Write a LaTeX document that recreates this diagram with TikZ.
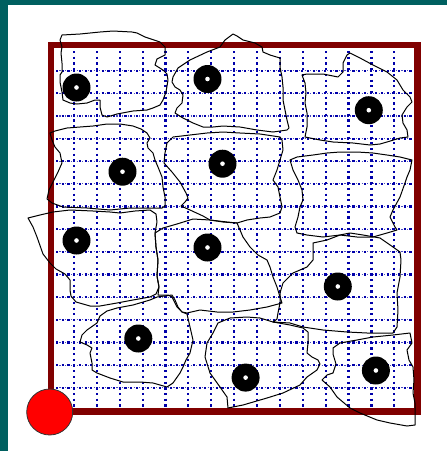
\documentclass[tikz,border=0pt]{standalone}
\usepackage{tikz}
\definecolor{slideteal}{RGB}{0, 96, 96}
\definecolor{framered}{RGB}{128, 0, 0}
\definecolor{gridblue}{RGB}{0, 0, 170}
\tikzset{
  plotframe/.style={draw=framered, line width=6.7pt},
  gridline/.style={gridblue, line width=2.2pt, dash pattern=on 2.2pt off 3.5pt},
  gridfine/.style={gridblue!70, line width=1.1pt, dash pattern=on 1.1pt off 4.6pt, dash phase=-3.4pt},
  cell/.style={draw=black, line width=1pt, line join=round},
  seed/.style={circle, fill=black, minimum size=28pt, inner sep=0pt,
    path picture={\fill[white] (path picture bounding box.center) circle (2.3pt);}},
  startpt/.style={circle, draw=black!80, fill=red, minimum size=46pt, inner sep=0pt, line width=0.8pt},
}

\begin{document}
\begin{tikzpicture}[x=1pt, y=-1pt]
    \useasboundingbox (0,0) rectangle (447,451);
    \fill[white] (0,0) rectangle (447,451);
    \fill[slideteal] (0,0) rectangle (447,5);
    \fill[slideteal] (0,0) rectangle (8,451);
    \foreach \i in {1,...,15} {
      \draw[gridline] ({51.1+22.88*\i},51) -- ({51.1+22.88*\i},407);
      \draw[gridline] (56,{48.1+22.64*\i}) -- (412,{48.1+22.64*\i});
      \draw[gridfine] (56,{48.1+22.64*\i}) -- (412,{48.1+22.64*\i});
    }
    \draw[plotframe] (51,45) rectangle (417.2,411.7);
    % cells
    \draw[cell] (60,40) -- (62,35) -- (80,34) -- (100,32) -- (113,31) -- (132,32) -- (137,33) -- (145,37) -- (160,42) -- (165,47) -- (165,55) -- (157,59) -- (155,65) -- (163,70) -- (167,74) -- (168,80) -- (166,92) -- (163,100) -- (160,105) -- (153,108) -- (147,110) -- (133,111) -- (117,114) -- (107,117) -- (102,115) -- (100,107) -- (100,100) -- (95,100) -- (87,103) -- (77,104) -- (70,103) -- (63,100) -- (62,92) -- (60,82) -- (60,75) -- (62,72) -- (62,63) -- (61,53) -- (62,47) -- cycle;
    \draw[cell] (233,34) -- (237,36) -- (243,40) -- (255,43) -- (262,47) -- (263,52) -- (270,55) -- (280,58) -- (280,67) -- (282,77) -- (283,87) -- (283,100) -- (285,110) -- (287,120) -- (289,128) -- (287,130) -- (273,132) -- (257,130) -- (240,127) -- (223,126) -- (213,127) -- (203,127) -- (193,123) -- (183,118) -- (175,113) -- (177,108) -- (182,103) -- (183,95) -- (180,90) -- (175,87) -- (172,82) -- (173,77) -- (178,68) -- (190,60) -- (207,52) -- (220,47) -- (225,40) -- cycle;
    \draw[cell] (302,75) -- (307,74) -- (323,74) -- (338,77) -- (343,72) -- (343,63) -- (347,55) -- (350,53) -- (360,58) -- (373,65) -- (387,72) -- (397,80) -- (403,90) -- (410,97) -- (412,102) -- (407,107) -- (402,115) -- (403,123) -- (407,130) -- (408,137) -- (400,138) -- (387,142) -- (380,144) -- (370,145) -- (353,143) -- (333,142) -- (320,140) -- (310,138) -- (305,137) -- (307,127) -- (307,113) -- (305,103) -- (306,93) -- (305,83) -- cycle;
    \draw[cell] (50,133) -- (55,131) -- (67,128) -- (80,127) -- (93,126) -- (107,124) -- (120,124) -- (133,126) -- (141,129) -- (147,133) -- (150,138) -- (147,143) -- (148,148) -- (153,153) -- (155,160) -- (158,167) -- (162,177) -- (163,187) -- (165,197) -- (165,206) -- (162,208) -- (153,208) -- (130,208) -- (110,210) -- (87,208) -- (63,207) -- (52,203) -- (47,199) -- (49,190) -- (54,180) -- (58,172) -- (62,163) -- (60,153) -- (55,147) -- (52,140) -- cycle;
    \draw[cell] (167,143) -- (173,137) -- (190,135) -- (207,133) -- (223,132) -- (240,133) -- (260,134) -- (280,137) -- (282,140) -- (283,150) -- (280,160) -- (277,170) -- (273,180) -- (278,187) -- (280,197) -- (282,207) -- (280,213) -- (270,217) -- (260,218) -- (247,220) -- (237,223) -- (223,222) -- (210,220) -- (203,216) -- (190,210) -- (181,206) -- (185,202) -- (188,198) -- (186,193) -- (180,182) -- (172,172) -- (164,163) -- (165,153) -- cycle;
    \draw[cell] (290,160) -- (297,157) -- (313,155) -- (327,153) -- (340,152) -- (357,152) -- (373,153) -- (387,155) -- (400,157) -- (412,160) -- (410,170) -- (407,177) -- (405,183) -- (400,197) -- (393,210) -- (390,217) -- (395,227) -- (397,230) -- (387,233) -- (373,237) -- (357,237) -- (340,235) -- (323,237) -- (307,235) -- (297,233) -- (295,227) -- (298,217) -- (300,207) -- (303,200) -- (302,190) -- (298,180) -- (293,170) -- cycle;
    \draw[cell] (28,218) -- (40,215) -- (53,212) -- (70,210) -- (93,211) -- (110,212) -- (120,213) -- (135,211) -- (150,210) -- (156,214) -- (157,222) -- (155,233) -- (156,247) -- (158,260) -- (157,276) -- (159,287) -- (156,294) -- (150,297) -- (133,300) -- (117,303) -- (100,306) -- (90,306) -- (76,302) -- (71,296) -- (70,290) -- (70,280) -- (65,274) -- (56,269) -- (50,263) -- (43,254) -- (37,237) -- (33,227) -- cycle;
    \draw[cell] (155,233) -- (163,228) -- (177,224) -- (193,219) -- (210,220) -- (227,222) -- (237,223) -- (243,237) -- (250,247) -- (258,255) -- (267,260) -- (270,267) -- (273,277) -- (277,287) -- (280,297) -- (282,303) -- (267,307) -- (250,310) -- (233,312) -- (217,312) -- (200,310) -- (187,313) -- (182,312) -- (177,307) -- (172,297) -- (168,295) -- (158,295) -- (159,287) -- (157,276) -- (158,260) -- (156,247) -- cycle;
    \draw[cell] (313,243) -- (327,240) -- (340,235) -- (350,233) -- (363,235) -- (380,238) -- (393,247) -- (400,252) -- (401,260) -- (400,277) -- (397,293) -- (398,310) -- (397,327) -- (393,333) -- (367,333) -- (347,332) -- (323,330) -- (303,327) -- (290,323) -- (273,322) -- (277,319) -- (278,313) -- (280,303) -- (280,293) -- (283,283) -- (293,273) -- (307,267) -- (313,260) -- cycle;
    \draw[cell] (100,316) -- (107,311) -- (117,308) -- (133,305) -- (150,300) -- (157,297) -- (172,295) -- (175,300) -- (178,307) -- (182,312) -- (187,314) -- (190,327) -- (193,340) -- (190,353) -- (186,360) -- (183,367) -- (180,373) -- (173,383) -- (167,387) -- (153,383) -- (140,382) -- (123,382) -- (110,378) -- (97,373) -- (92,370) -- (92,363) -- (90,353) -- (92,348) -- (87,345) -- (80,342) -- (82,335) -- (87,330) -- (97,323) -- cycle;
    \draw[cell] (205,357) -- (207,343) -- (213,333) -- (218,323) -- (230,318) -- (247,317) -- (260,318) -- (273,322) -- (290,325) -- (303,328) -- (308,332) -- (308,343) -- (307,353) -- (312,357) -- (318,360) -- (320,364) -- (317,370) -- (307,377) -- (300,385) -- (283,393) -- (267,398) -- (243,405) -- (228,408) -- (227,397) -- (220,387) -- (210,373) -- cycle;
    \draw[cell] (333,348) -- (340,343) -- (357,340) -- (373,337) -- (393,335) -- (410,333) -- (412,343) -- (407,350) -- (409,360) -- (413,367) -- (414,380) -- (413,393) -- (415,403) -- (415,425) -- (407,426) -- (390,423) -- (377,420) -- (360,413) -- (350,408) -- (337,397) -- (330,387) -- (322,380) -- (327,375) -- (333,373) -- (336,364) -- (333,354) -- cycle;
    % seeds
    \node[seed] (s1) at (76.5,87.5) {};
    \node[seed] (s2) at (207.5,79) {};
    \node[seed] (s3) at (368.8,110.2) {};
    \node[seed] (s4) at (122.5,171.7) {};
    \node[seed] (s5) at (222.5,163.7) {};
    \node[seed] (s6) at (76.5,240.5) {};
    \node[seed] (s7) at (207.5,247.5) {};
    \node[seed] (s8) at (337.8,286.5) {};
    \node[seed] (s9) at (138.3,338.5) {};
    \node[seed] (s10) at (245.6,377.6) {};
    \node[seed] (s11) at (375.9,370.5) {};
    \node[startpt] (org) at (49.7,412) {};
\end{tikzpicture}
\end{document}
